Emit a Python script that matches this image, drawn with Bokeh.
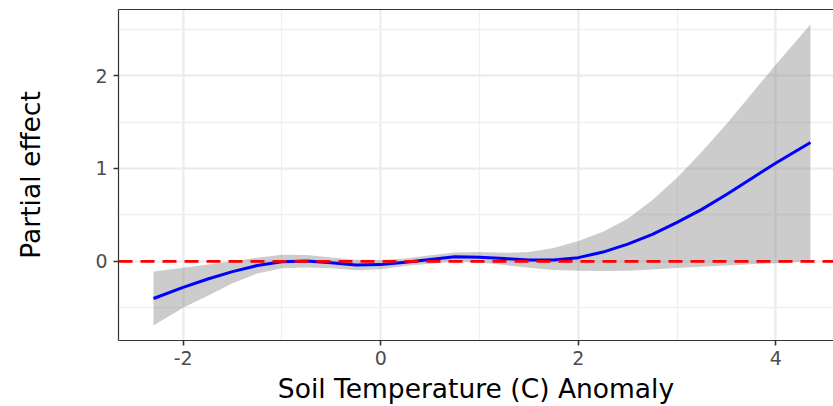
from bokeh.plotting import figure
from bokeh.models import (Range1d, SingleIntervalTicker, LinearAxis, FixedTicker, Span)
from bokeh.embed import file_html
from bokeh.resources import INLINE

# ---- data ----
temp_anomaly = [-2.3, -2.0, -1.75, -1.5, -1.25, -1.0, -0.75, -0.5, -0.25, 0.0,
                0.25, 0.5, 0.75, 1.0, 1.25, 1.5, 1.75, 2.0, 2.25, 2.5,
                2.75, 3.0, 3.25, 3.5, 3.75, 4.0, 4.35]
partial_fit = [-0.40, -0.28, -0.19, -0.11, -0.045, -0.005, 0.005, -0.015, -0.04, -0.035,
               -0.01, 0.02, 0.05, 0.045, 0.03, 0.015, 0.015, 0.04, 0.10, 0.185,
               0.29, 0.42, 0.56, 0.72, 0.89, 1.06, 1.28]
ci_upper = [-0.11, -0.07, -0.035, -0.002, 0.04, 0.07, 0.068, 0.042, 0.017, 0.015,
            0.032, 0.065, 0.095, 0.10, 0.092, 0.10, 0.145, 0.22, 0.32, 0.46,
            0.66, 0.90, 1.18, 1.48, 1.80, 2.12, 2.55]
ci_lower = [-0.69, -0.50, -0.37, -0.235, -0.13, -0.075, -0.065, -0.075, -0.095, -0.085,
            -0.05, -0.025, 0.002, -0.012, -0.04, -0.07, -0.092, -0.10, -0.105, -0.10,
            -0.088, -0.072, -0.057, -0.045, -0.032, -0.02, 0.005]
reference_y = 0
x_title = "Soil Temperature (C) Anomaly"
y_title = "Partial effect"
x_tick_labels = {-2: "-2", 0: "0", 2: "2", 4: "4"}
y_tick_labels = {0: "0", 1: "1", 2: "2"}

FONT = "DejaVu Sans"

p = figure(width=833, height=406, output_backend="svg", toolbar_location=None,
           x_range=Range1d(-2.654, 4.583), y_range=Range1d(-0.852, 2.712),
           min_border_left=118, min_border_right=0, min_border_top=9,
           min_border_bottom=66)
p.outline_line_color = None
p.background_fill_color = "white"
p.border_fill_color = "white"

# band and fit
p.varea(x=temp_anomaly, y1=ci_lower, y2=ci_upper, fill_color="#7F7F7F", fill_alpha=0.4)
p.line(temp_anomaly, partial_fit, line_color="blue", line_width=3)

p.add_layout(Span(location=reference_y, dimension="width", line_color="red",
                  line_width=2.6, line_dash="14 8"))

# axes
p.xaxis.ticker = SingleIntervalTicker(interval=2, num_minor_ticks=2)
p.yaxis.ticker = SingleIntervalTicker(interval=1, num_minor_ticks=2)
p.xaxis.major_label_overrides = x_tick_labels
p.yaxis.major_label_overrides = y_tick_labels
for ax in (p.xaxis, p.yaxis):
    ax.axis_line_color = "#333333"
    ax.axis_line_width = 1.2
    ax.major_tick_line_color = "#333333"
    ax.major_tick_line_width = 1.6
    ax.major_tick_in = 0
    ax.major_tick_out = 5
    ax.minor_tick_line_color = None
    ax.major_label_text_font = FONT
    ax.major_label_text_font_size = "19px"
    ax.major_label_text_color = "#4D4D4D"
    ax.axis_label_text_font = FONT
    ax.axis_label_text_font_size = "26.5px"
    ax.axis_label_text_font_style = "normal"
    ax.axis_label_text_color = "black"
p.xaxis.axis_label = x_title
p.yaxis.axis_label = y_title
p.xaxis.major_label_standoff = 5
p.xaxis.axis_label_standoff = 5
p.yaxis.major_label_standoff = 6
p.yaxis.axis_label_standoff = 46

# top border
top = LinearAxis(ticker=FixedTicker(ticks=[]), axis_line_color="#333333",
                 axis_line_width=1.2, major_tick_line_color=None,
                 minor_tick_line_color=None, major_label_text_font_size="0px")
p.add_layout(top, "above")

# grid
for g in (p.xgrid, p.ygrid):
    g.grid_line_color = "#EBEBEB"
    g.grid_line_width = 2
    g.minor_grid_line_color = "#F0F0F0"
    g.minor_grid_line_width = 1.3

open("out.html", "w").write(file_html(p, INLINE))
